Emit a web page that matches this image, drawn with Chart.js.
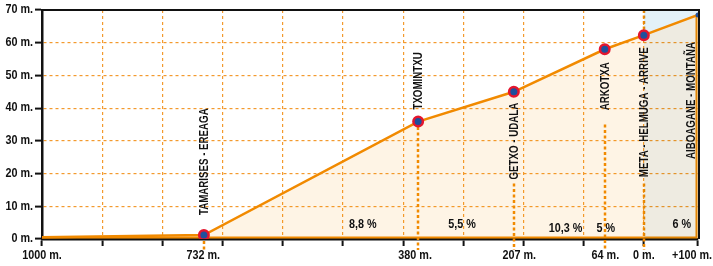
<!DOCTYPE html>
<html>
<head>
<meta charset="utf-8">
<script src="https://cdn.jsdelivr.net/npm/chart.js@4"></script>
<style>
html,body{margin:0;padding:0;background:#fff;}
#wrap{width:713px;height:266px;position:relative;}
</style>
</head>
<body>
<div id="wrap"><canvas id="c" width="713" height="266"></canvas></div>
<script>
// ---- data ----
const stationX = [-1000, -731, -375, -216, -65, 0, 90];
const elevations = [0.5, 1.2, 35.9, 45.0, 58.0, 62.3, 68.5];
const stationNames = ['', 'TAMARISES - EREAGA', 'TXOMINTXU', 'GETXO - UDALA', 'ARKOTXA', 'META - HELMUGA - ARRIVE', 'AIBOAGANE - MONTAÑA'];
const distTickValues = [-1000, -732, -380, -207, -64, 0, 90];
const distTickLabels = ['1000 m.', '732 m.', '380 m.', '207 m.', '64 m.', '0 m.', '+100 m.'];
const gridXValues = [-1000, -900, -800, -700, -600, -500, -400, -300, -200, -100, 0, 90];
const yTickValues = [0, 10, 20, 30, 40, 50, 60, 70];
const yTickLabels = ['0 m.', '10 m.', '20 m.', '30 m.', '40 m.', '50 m.', '60 m.', '70 m.'];
const gradeLabels = ['8,8 %', '5,5 %', '10,3 %', '5 %', '6 %'];
const gradeX = [-467, -302, -130, -63, 63];
const gradeY = [4.3, 4.3, 3.0, 3.0, 4.3];

// ---- styles ----
const FONT = "bold 12px 'Liberation Sans', Arial, sans-serif";
const SX_NUM = 0.9;   // horizontal condensing for numeric labels
const SX_NAME = 0.81; // horizontal condensing for station names
const ORANGE = '#f18a00';
const GRID = '#f39a2e';
const PEACH = 'rgba(243,146,0,0.10)';
const BEIGE = 'rgba(120,100,20,0.13)';
const BLUE = 'rgba(0,130,190,0.11)';
// label placement per station: [placement, gap px, x offset px]
const labelStyle = [null, ['above', 20, 0], ['above', 12, 0], ['below', 11, 0], ['below', 13, 0], ['below', 12, 0], ['top', 32, -7]];
// marker dotted line start (elevation) per station
const markerLineFrom = [undefined, 'marker', 'marker', 17, 35, 17, undefined];

const profile = stationX.map((x, i) => ({x: x, y: elevations[i]}));
const tail = profile.filter(p => p.x >= 0);

function drawText(ctx, text, x, y, align, sx, rot) {
  ctx.save();
  ctx.translate(x, y);
  if (rot) ctx.rotate(rot);
  ctx.scale(sx, 1);
  ctx.textAlign = align;
  ctx.fillText(text, 0, 0);
  ctx.restore();
}

const overlay = {
  id: 'overlay',
  beforeDatasetsDraw(chart) {
    const {ctx, chartArea: a, scales: {x, y}} = chart;
    ctx.save();
    ctx.strokeStyle = ORANGE;
    ctx.lineWidth = 2.5;
    ctx.setLineDash([3, 2.5]);
    const yb = y.getPixelForValue(0) + 11;
    for (let i = 1; i < stationX.length; i++) {
      const f = markerLineFrom[i];
      if (f === undefined) continue;
      const px = Math.round(x.getPixelForValue(stationX[i]));
      const my = y.getPixelForValue(elevations[i]);
      let y0 = f === 'marker' ? my : y.getPixelForValue(f);
      if (i === 1) y0 = my + 6;
      ctx.beginPath(); ctx.moveTo(px, y0); ctx.lineTo(px, yb); ctx.stroke();
      if (i === 5) { ctx.beginPath(); ctx.moveTo(px, a.top); ctx.lineTo(px, my); ctx.stroke(); }
    }
    ctx.setLineDash([]);
    ctx.lineWidth = 2;
    ctx.beginPath();
    ctx.moveTo(a.left, a.bottom - 1.5);
    ctx.lineTo(a.right - 1.5, a.bottom - 1.5);
    ctx.lineTo(a.right - 1.5, y.getPixelForValue(elevations[elevations.length - 1]));
    ctx.stroke();
    ctx.restore();
  },
  afterDraw(chart) {
    const {ctx, chartArea: a, scales: {x, y}} = chart;
    ctx.save();
    ctx.strokeStyle = '#111';
    ctx.lineWidth = 2;
    ctx.beginPath();
    ctx.moveTo(a.left, a.top); ctx.lineTo(a.right + 1, a.top); ctx.lineTo(a.right + 1, a.bottom);
    ctx.stroke();
    ctx.fillStyle = '#111';
    ctx.font = FONT;
    ctx.textBaseline = 'middle';
    // station names (vertical)
    for (let i = 1; i < stationNames.length; i++) {
      const st = labelStyle[i];
      const px = x.getPixelForValue(stationX[i]) + st[2] + 0.5;
      const my = y.getPixelForValue(elevations[i]);
      if (st[0] === 'above') drawText(ctx, stationNames[i], px, my - st[1], 'left', SX_NAME, -Math.PI / 2);
      else if (st[0] === 'below') drawText(ctx, stationNames[i], px, my + st[1], 'right', SX_NAME, -Math.PI / 2);
      else drawText(ctx, stationNames[i], px, a.top + st[1], 'right', SX_NAME, -Math.PI / 2);
    }
    // grade labels
    for (let i = 0; i < gradeLabels.length; i++) {
      drawText(ctx, gradeLabels[i], x.getPixelForValue(gradeX[i]), y.getPixelForValue(gradeY[i]), 'center', SX_NUM, 0);
    }
    // distance labels
    for (let i = 0; i < distTickLabels.length; i++) {
      let px = x.getPixelForValue(distTickValues[i]);
      const w = ctx.measureText(distTickLabels[i]).width * SX_NUM;
      if (px + w / 2 > chart.width - 1) px = chart.width - 1 - w / 2;
      drawText(ctx, distTickLabels[i], px, a.bottom + 17, 'center', SX_NUM, 0);
    }
    // elevation labels
    for (let i = 0; i < yTickValues.length; i++) {
      drawText(ctx, yTickLabels[i], a.left - 9, y.getPixelForValue(yTickValues[i]), 'right', SX_NUM, 0);
    }
    ctx.restore();
  }
};

new Chart(document.getElementById('c'), {
  type: 'line',
  data: {
    datasets: [
      {
        data: profile,
        borderColor: ORANGE,
        borderWidth: 2.5,
        backgroundColor: PEACH,
        fill: 'origin',
        tension: 0,
        segment: {backgroundColor: c => c.p0.parsed.x >= 0 ? BEIGE : PEACH},
        pointRadius: stationX.map((v, i) => i === 0 ? 0 : (i === stationX.length - 1 ? 2.5 : 4.75)),
        pointBorderWidth: stationX.map((v, i) => (i === 0 || i === stationX.length - 1) ? 0 : 2.5),
        pointBackgroundColor: '#1f4f9c',
        pointBorderColor: '#e4162e',
        order: 0
      },
      {
        data: tail,
        borderWidth: 0,
        pointRadius: 0,
        fill: 'end',
        backgroundColor: BLUE,
        tension: 0,
        order: 1
      }
    ]
  },
  options: {
    responsive: false,
    animation: false,
    events: [],
    layout: {padding: {top: 10, right: 15, left: 0, bottom: 0}},
    plugins: {legend: {display: false}, tooltip: {enabled: false}},
    scales: {
      x: {
        type: 'linear',
        min: -1000,
        max: 90,
        afterBuildTicks: s => { s.ticks = gridXValues.map(v => ({value: v})); },
        afterFit: s => { s.height = 27; s.paddingLeft = 0; s.paddingRight = 0; },
        ticks: {display: false},
        grid: {
          color: c => (c.tick && c.tick.value > -1000 && c.tick.value < 90) ? GRID : 'rgba(0,0,0,0)',
          lineWidth: 1.2,
          drawTicks: true,
          tickLength: 7,
          tickWidth: 2,
          tickColor: '#111'
        },
        border: {display: true, color: '#111', width: 2.5, dash: [3, 3]}
      },
      y: {
        min: 0,
        max: 70,
        afterBuildTicks: s => { s.ticks = yTickValues.map(v => ({value: v})); },
        afterFit: s => { s.width = 42; s.paddingTop = 0; s.paddingBottom = 0; },
        ticks: {display: false},
        grid: {
          color: c => (c.tick && c.tick.value > 0 && c.tick.value < 70) ? GRID : 'rgba(0,0,0,0)',
          lineWidth: 1.2,
          drawTicks: true,
          tickLength: 7,
          tickWidth: 2,
          tickColor: '#111'
        },
        border: {display: true, color: '#111', width: 2.5, dash: [3, 3]}
      }
    }
  },
  plugins: [overlay]
});
</script>
</body>
</html>
